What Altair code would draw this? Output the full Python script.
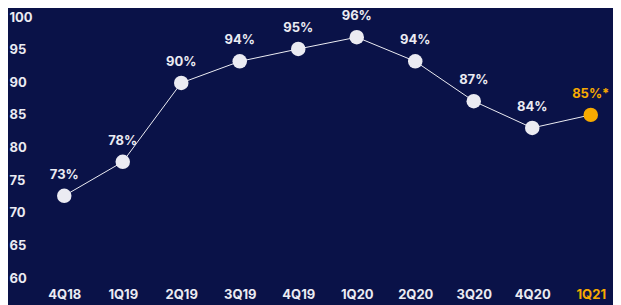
import altair as alt
import pandas as pd

quarters = ["4Q18", "1Q19", "2Q19", "3Q19", "4Q19", "1Q20", "2Q20", "3Q20", "4Q20", "1Q21"]
values = [72.6, 77.8, 89.9, 93.2, 95.1, 96.9, 93.2, 87.1, 83.0, 85.0]
labels = ["73%", "78%", "90%", "94%", "95%", "96%", "94%", "87%", "84%", "85%*"]
kinds = ["actual"] * 9 + ["estimate"]

BG = "#0a1248"
WHITE = "#ebebf2"
ORANGE = "#f7aa00"
FONT = "Inter"

df = pd.DataFrame({"q": quarters, "v": values, "label": labels, "kind": kinds})

x = alt.X("q:N", sort=quarters, scale=alt.Scale(type="point", padding=0.5),
          axis=alt.Axis(title=None, domain=False, ticks=False, grid=False, labelAngle=0,
                        labelPadding=10, labelFontSize=13, labelFontWeight="bold", labelFont=FONT,
                        labelColor={"expr": f"datum.value == '1Q21' ? '{ORANGE}' : '{WHITE}'"}))
y = alt.Y("v:Q", scale=alt.Scale(domain=[60, 100], nice=False, zero=False),
          axis=alt.Axis(title=None, domain=False, ticks=False, tickSize=0, grid=False,
                        values=[60, 65, 70, 75, 80, 85, 90, 95, 100],
                        labelAlign="left", labelPadding=26, labelFontSize=13,
                        labelFontWeight="bold", labelFont=FONT, labelColor=WHITE))
color = alt.Color("kind:N", scale=alt.Scale(domain=["actual", "estimate"], range=[WHITE, ORANGE]), legend=None)

base = alt.Chart(df).encode(x=x, y=y)
line = base.mark_line(color=WHITE, strokeWidth=1)
points = base.mark_circle(size=210, opacity=1).encode(color=color)
text = base.mark_text(dy=-21, fontSize=13, fontWeight="bold", font=FONT, baseline="middle").encode(
    text="label:N", color=color)

chart = (line + points + text).properties(
    width=585, height=261,
    background=BG,
    padding={"left": 27, "top": 9, "right": -7, "bottom": 40},
    autosize=alt.AutoSizeParams(type="none"),
).configure_view(stroke=None)

chart.save("out.html", embed_options={"renderer": "svg", "actions": False})
